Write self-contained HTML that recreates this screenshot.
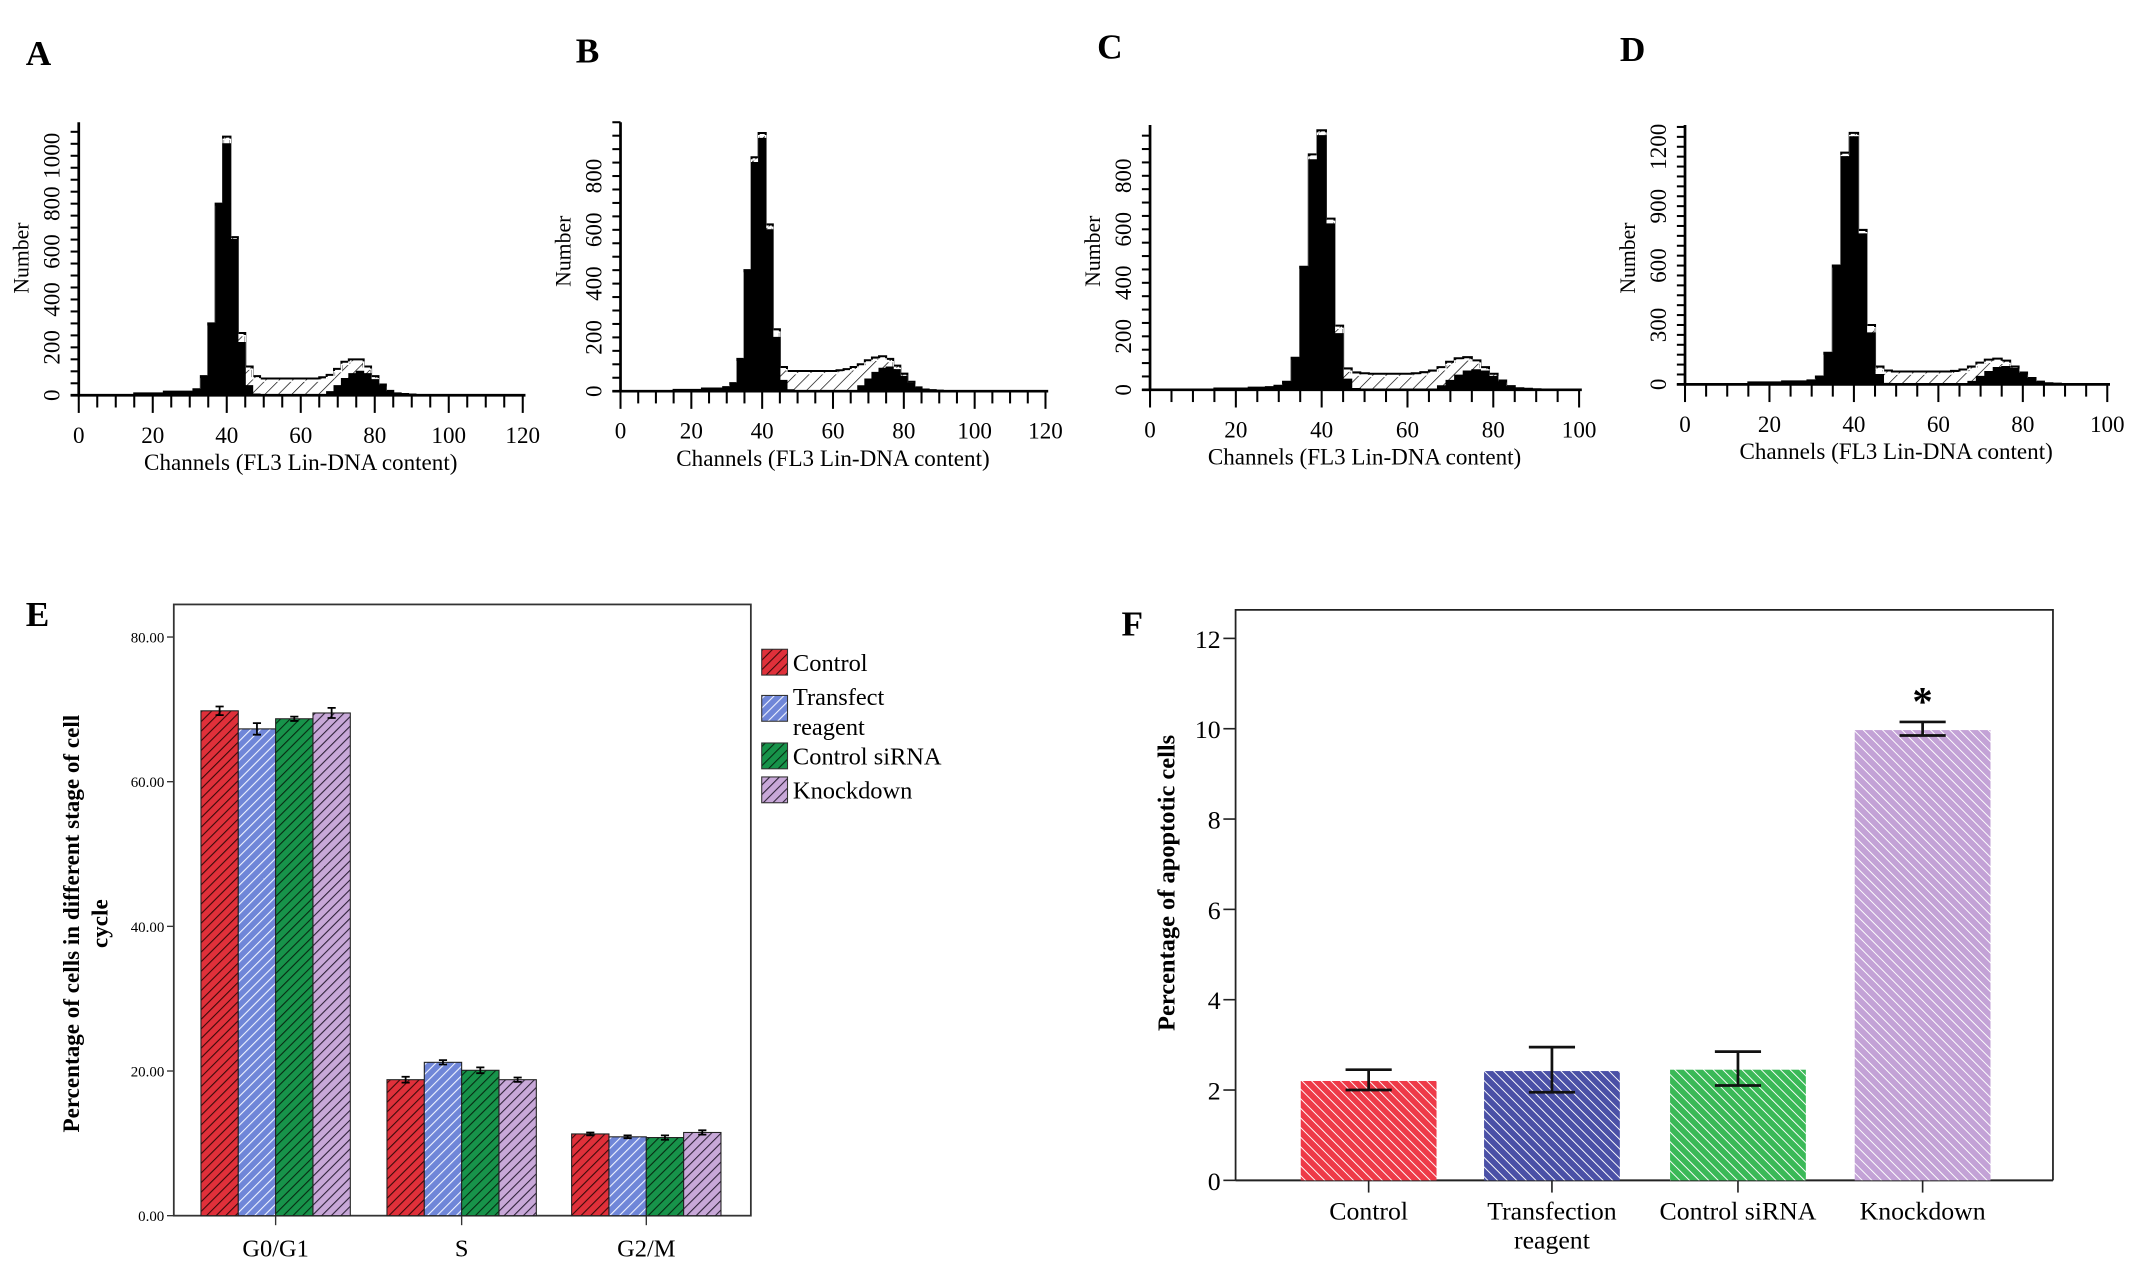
<!DOCTYPE html>
<html><head><meta charset="utf-8"><style>
html,body{margin:0;padding:0;background:#fff}
svg{display:block}
text{font-family:"Liberation Serif",serif;fill:#000}
</style></head><body>
<svg id="fig" width="2129" height="1270" viewBox="0 0 1568 935" preserveAspectRatio="none" xmlns="http://www.w3.org/2000/svg">
<defs>
<pattern id="hatchS" patternUnits="userSpaceOnUse" width="7" height="7" patternTransform="rotate(45)"><rect width="7" height="7" fill="#fff"/><line x1="0" y1="0" x2="0" y2="7" stroke="#000" stroke-width="1"/></pattern>
<pattern id="pE0" patternUnits="userSpaceOnUse" width="5" height="5" patternTransform="rotate(45)"><rect width="5" height="5" fill="#e0303a"/><line x1="0" y1="0" x2="0" y2="5" stroke="#3a0a0a" stroke-width="1.6"/></pattern>
<pattern id="pE1" patternUnits="userSpaceOnUse" width="5" height="5" patternTransform="rotate(45)"><rect width="5" height="5" fill="#6f86d8"/><line x1="0" y1="0" x2="0" y2="5" stroke="#f0f4ff" stroke-width="1.6"/></pattern>
<pattern id="pE2" patternUnits="userSpaceOnUse" width="5" height="5" patternTransform="rotate(45)"><rect width="5" height="5" fill="#17934a"/><line x1="0" y1="0" x2="0" y2="5" stroke="#062a12" stroke-width="1.6"/></pattern>
<pattern id="pE3" patternUnits="userSpaceOnUse" width="5" height="5" patternTransform="rotate(45)"><rect width="5" height="5" fill="#c8a8d8"/><line x1="0" y1="0" x2="0" y2="5" stroke="#2e2238" stroke-width="1.6"/></pattern>
<pattern id="pF0" patternUnits="userSpaceOnUse" width="5" height="5" patternTransform="rotate(-45)"><rect width="5" height="5" fill="#ee3a48"/><line x1="0" y1="0" x2="0" y2="5" stroke="#fff" stroke-width="1.4"/></pattern>
<pattern id="pF1" patternUnits="userSpaceOnUse" width="5" height="5" patternTransform="rotate(-45)"><rect width="5" height="5" fill="#4a50a6"/><line x1="0" y1="0" x2="0" y2="5" stroke="#fff" stroke-width="1.4"/></pattern>
<pattern id="pF2" patternUnits="userSpaceOnUse" width="5" height="5" patternTransform="rotate(-45)"><rect width="5" height="5" fill="#3ab957"/><line x1="0" y1="0" x2="0" y2="5" stroke="#fff" stroke-width="1.4"/></pattern>
<pattern id="pF3" patternUnits="userSpaceOnUse" width="5" height="5" patternTransform="rotate(-45)"><rect width="5" height="5" fill="#c3a2d6"/><line x1="0" y1="0" x2="0" y2="5" stroke="#fff" stroke-width="1.4"/></pattern>
</defs>
</svg>
<script>
// ---------- Histogram data ----------
const channels = [14,16,18,20,22,24,26,28,30,32,34,36,38,40,42,44,46,48,50,52,54,56,58,60,62,64,66,68,70,72,74,76,78,80,82,84,86,88,90,92];
const blackA = [0,8,8,8,8,15,15,15,15,25,80,300,800,1050,650,220,40,5,0,0,0,0,0,0,0,0,0,15,40,70,90,100,90,65,40,15,8,5,3,0];
const outlineA = [0,8,8,8,8,15,15,15,15,25,80,300,800,1080,660,260,120,80,70,70,70,70,70,70,70,70,75,85,110,140,150,150,120,80,45,18,8,5,3,0];
const blackB = [0,5,5,5,5,10,10,10,15,30,120,450,850,940,600,200,40,5,0,0,0,0,0,0,0,0,0,20,45,70,85,90,80,55,30,12,6,4,2,0];
const outlineB = [0,5,5,5,5,10,10,10,15,30,120,450,870,960,620,230,90,75,75,75,75,75,75,75,78,82,90,100,115,125,130,120,95,65,35,14,6,4,2,0];
const blackC = [0,5,5,5,5,8,8,10,15,30,120,460,860,950,620,210,40,5,0,0,0,0,0,0,0,0,0,15,35,55,70,75,70,50,30,12,6,4,2,0];
const outlineC = [0,5,5,5,5,8,8,10,15,30,120,460,880,970,640,240,80,65,62,60,60,60,60,60,62,66,72,85,105,118,122,110,85,60,35,14,6,4,2,0];
const blackD = [0,10,10,10,10,15,15,15,20,40,160,600,1150,1250,760,260,50,5,0,0,0,0,0,0,0,0,0,15,40,65,85,90,80,55,30,12,6,4,2,0];
const outlineD = [0,10,10,10,10,15,15,15,20,40,160,600,1170,1270,780,300,90,70,65,65,65,65,65,65,65,68,75,90,110,125,130,120,90,60,32,14,6,4,2,0];
const yTicksA = [0,200,400,600,800,1000];
const yTicksB = [0,200,400,600,800];
const yTicksD = [0,300,600,900,1200];
const xTicks120 = [0,20,40,60,80,100,120];
const xTicks100 = [0,20,40,60,80,100];

// ---------- Panel E data ----------
const phases = ["G0/G1","S","G2/M"];
const groupsE = ["Control","Transfect reagent","Control siRNA","Knockdown"];
const eControl = [69.8,18.8,11.3];
const eTransfect = [67.3,21.2,10.9];
const eSiRNA = [68.7,20.1,10.8];
const eKnockdown = [69.5,18.8,11.5];
const eErr = [[0.6,0.4,0.2],[0.8,0.3,0.2],[0.3,0.4,0.3],[0.7,0.3,0.3]];
const yTicksE = [0,20,40,60,80];

// ---------- Panel F data ----------
const groupsF = ["Control","Transfection reagent","Control siRNA","Knockdown"];
const fValues = [2.2,2.42,2.45,9.97];
const fErrLow = [2.0,1.95,2.1,9.85];
const fErrHigh = [2.45,2.95,2.85,10.15];
const yTicksF = [0,2,4,6,8,10,12];

const NS="http://www.w3.org/2000/svg";
const svg=document.getElementById('fig');
function el(tag,attrs,parent){const e=document.createElementNS(NS,tag);for(const k in attrs)e.setAttribute(k,attrs[k]);(parent||svg).appendChild(e);return e;}
function txt(s,attrs,parent){const t=el('text',attrs,parent);t.textContent=s;return t;}

function hist(cfg){
  const g=el('g',{});
  
  
  const sx=v=>cfg.x0+(v/cfg.xmax)*(cfg.x1-cfg.x0);
  const sy=v=>cfg.base-(v/cfg.ymax)*(cfg.base-cfg.top);
  const L=txt(cfg.id,{x:cfg.lx,y:cfg.ly,'font-size':26,'font-weight':'bold'},g);
  
  
  function stepPath(arr){
    let d='M'+sx(channels[0]-1)+','+sy(0);
    channels.forEach((c,i)=>{d+=' L'+sx(c-1)+','+sy(arr[i])+' L'+sx(c+1)+','+sy(arr[i]);});
    d+=' L'+sx(channels[channels.length-1]+1)+','+sy(0)+' Z';return d;}
  const o=el('path',{d:stepPath(cfg.outline),fill:'url(#hatchS)',stroke:'#000','stroke-width':1.5},g);
  
  
  el('path',{d:stepPath(cfg.outline),fill:'none',stroke:'#fff','stroke-width':1,transform:'translate(0,2)'},g);
  const b=el('path',{d:stepPath(cfg.black),fill:'#000',stroke:'#000','stroke-width':0.8},g);
  
  
  el('line',{x1:cfg.x0,y1:cfg.top,x2:cfg.x0,y2:cfg.base+1,stroke:'#000','stroke-width':2},g);
  el('line',{x1:cfg.x0-6,y1:cfg.base,x2:cfg.x1+2,y2:cfg.base,stroke:'#000','stroke-width':2},g);
  for(let v=0;v<=cfg.ymax;v+=cfg.yminor){el('line',{x1:cfg.x0-6,y1:sy(v),x2:cfg.x0,y2:sy(v),stroke:'#000','stroke-width':1.5},g);}
  for(let v=0;v<=cfg.xmax;v+=5){const maj=v%20===0;el('line',{x1:sx(v),y1:cfg.base,x2:sx(v),y2:cfg.base+(maj?13:9),stroke:'#000','stroke-width':1.5},g);}
  cfg.xt.forEach(v=>{const t=txt(String(v),{x:sx(v),y:cfg.base+35,'font-size':17,'text-anchor':'middle'},g);
    
    });
  cfg.yt.forEach(v=>{const t=txt(String(v),{x:0,y:0,'font-size':17,'text-anchor':'middle',transform:`translate(${cfg.x0-14},${sy(v)}) rotate(-90)`},g);
    
    });
  const xt=txt('Channels (FL3 Lin-DNA content)',{x:(cfg.x0+cfg.x1)/2,y:cfg.base+55,'font-size':17,'text-anchor':'middle'},g);
  
  
  const yt=txt('Number',{x:0,y:0,'font-size':16,'text-anchor':'middle',transform:`translate(${cfg.x0-37},${cfg.ny}) rotate(-90)`},g);
  
  
}
hist({id:'A',lx:19,ly:48,x0:58,x1:385,xmax:120,base:291,top:90,ymax:1140,yminor:50,xt:xTicks120,yt:yTicksA,black:blackA,outline:outlineA,ny:190});
hist({id:'B',lx:424,ly:46,x0:457,x1:770,xmax:120,base:288,top:90,ymax:1000,yminor:50,xt:xTicks120,yt:yTicksB,black:blackB,outline:outlineB,ny:185});
hist({id:'C',lx:808,ly:43,x0:847,x1:1163,xmax:100,base:287,top:92,ymax:990,yminor:50,xt:xTicks100,yt:yTicksB,black:blackC,outline:outlineC,ny:185});
hist({id:'D',lx:1193,ly:45,x0:1241,x1:1552,xmax:100,base:283,top:92,ymax:1310,yminor:50,xt:xTicks100,yt:yTicksD,black:blackD,outline:outlineD,ny:190});

// ---------- Panel E ----------
(function(){
  const g=el('g',{});
  
  
  const X0=128,X1=553,Y0=895,Y80=469;
  const sy=v=>Y0-(v/80)*(Y0-Y80);
  const centers=[203,340,476], bw=27.5;
  const L=txt('E',{x:19,y:461,'font-size':26,'font-weight':'bold'},g);
  
  
  el('rect',{x:X0,y:445,width:X1-X0,height:Y0-445,fill:'none',stroke:'#333','stroke-width':1.3},g);
  yTicksE.forEach(v=>{el('line',{x1:X0-5,y1:sy(v),x2:X0,y2:sy(v),stroke:'#333','stroke-width':1},g);
    const t=txt(v.toFixed(2),{x:X0-7,y:sy(v)+4,'font-size':11,'text-anchor':'end','font-family':'Liberation Sans, sans-serif'},g);
    
    });
  const series=[eControl,eTransfect,eSiRNA,eKnockdown];
  phases.forEach((p,i)=>{
    series.forEach((s,j)=>{
      const x=centers[i]-2*bw+j*bw;
      const r=el('rect',{x:x,y:sy(s[i]),width:bw,height:Y0-sy(s[i]),fill:`url(#pE${j})`,stroke:'#222','stroke-width':0.8},g);
      
      
      const cx=x+bw/2,e=eErr[j][i];
      el('path',{d:`M${cx-3},${sy(s[i]+e)} H${cx+3} M${cx},${sy(s[i]+e)} V${sy(s[i]-e)} M${cx-3},${sy(s[i]-e)} H${cx+3}`,stroke:'#000','stroke-width':1.3,fill:'none'},g);
    });
    el('line',{x1:centers[i],y1:Y0,x2:centers[i],y2:Y0+7,stroke:'#333','stroke-width':1},g);
    const t=txt(p,{x:centers[i],y:925,'font-size':18,'text-anchor':'middle'},g);
    
    
  });
  const yt=el('text',{x:0,y:0,'font-size':17,'font-weight':'bold','text-anchor':'middle',transform:'translate(58,680) rotate(-90)'},g);
  
  
  const t1=el('tspan',{x:0,dy:0},yt);t1.textContent='Percentage of cells in different stage of cell';
  const t2=el('tspan',{x:0,dy:21},yt);t2.textContent='cycle';
  const lg=el('g',{},g);
  
  
  const ly=[478,512,547,572];
  groupsE.forEach((n,j)=>{
    const e=el('rect',{x:561,y:ly[j],width:19,height:19,fill:`url(#pE${j})`,stroke:'#333','stroke-width':0.8},lg);
    
    
    if(j===1){txt('Transfect',{x:584,y:519,'font-size':18},lg);txt('reagent',{x:584,y:541,'font-size':18},lg);}
    else txt(n,{x:584,y:ly[j]+16,'font-size':18},lg);
  });
})();

// ---------- Panel F ----------
(function(){
  const g=el('g',{});
  
  
  const X0=910,X1=1512,Y0=869,Y12=470;
  const sy=v=>Y0-(v/12)*(Y0-Y12);
  const centers=[1008,1143,1280,1416], bw=100;
  const L=txt('F',{x:826,y:468,'font-size':26,'font-weight':'bold'},g);
  
  
  el('path',{d:`M${X0},${Y0} V449 H${X1} V${Y0}`,fill:'none',stroke:'#222','stroke-width':1.3},g);
  el('line',{x1:X0,y1:Y0,x2:X1,y2:Y0,stroke:'#222','stroke-width':1.5},g);
  yTicksF.forEach(v=>{el('line',{x1:X0-9,y1:sy(v),x2:X0,y2:sy(v),stroke:'#222','stroke-width':1.2},g);
    const t=txt(String(v),{x:X0-11,y:sy(v)+7,'font-size':19,'text-anchor':'end'},g);
    
    });
  fValues.forEach((v,j)=>{
    const c=centers[j];
    const r=el('rect',{x:c-bw/2,y:sy(v),width:bw,height:Y0-sy(v),fill:`url(#pF${j})`},g);
    
    
    el('path',{d:`M${c-17},${sy(fErrHigh[j])} H${c+17} M${c},${sy(fErrHigh[j])} V${sy(fErrLow[j])} M${c-17},${sy(fErrLow[j])} H${c+17}`,stroke:'#111','stroke-width':2,fill:'none'},g);
    el('line',{x1:c,y1:Y0,x2:c,y2:Y0+9,stroke:'#222','stroke-width':1.2},g);
  });
  const star=txt('*',{x:centers[3],y:sy(fErrHigh[3])-5,'font-size':30,'font-weight':'bold','text-anchor':'middle'},g);
  
  
  const labs=[["Control"],["Transfection","reagent"],["Control siRNA"],["Knockdown"]];
  labs.forEach((ls,j)=>{ls.forEach((s,k)=>{const t=txt(s,{x:centers[j],y:898+k*21,'font-size':19,'text-anchor':'middle'},g);
    
    });});
  const yt=txt('Percentage of apoptotic cells',{x:0,y:0,'font-size':18,'font-weight':'bold','text-anchor':'middle',transform:'translate(865,650) rotate(-90)'},g);
  
  
})();
</script>
</body></html>
